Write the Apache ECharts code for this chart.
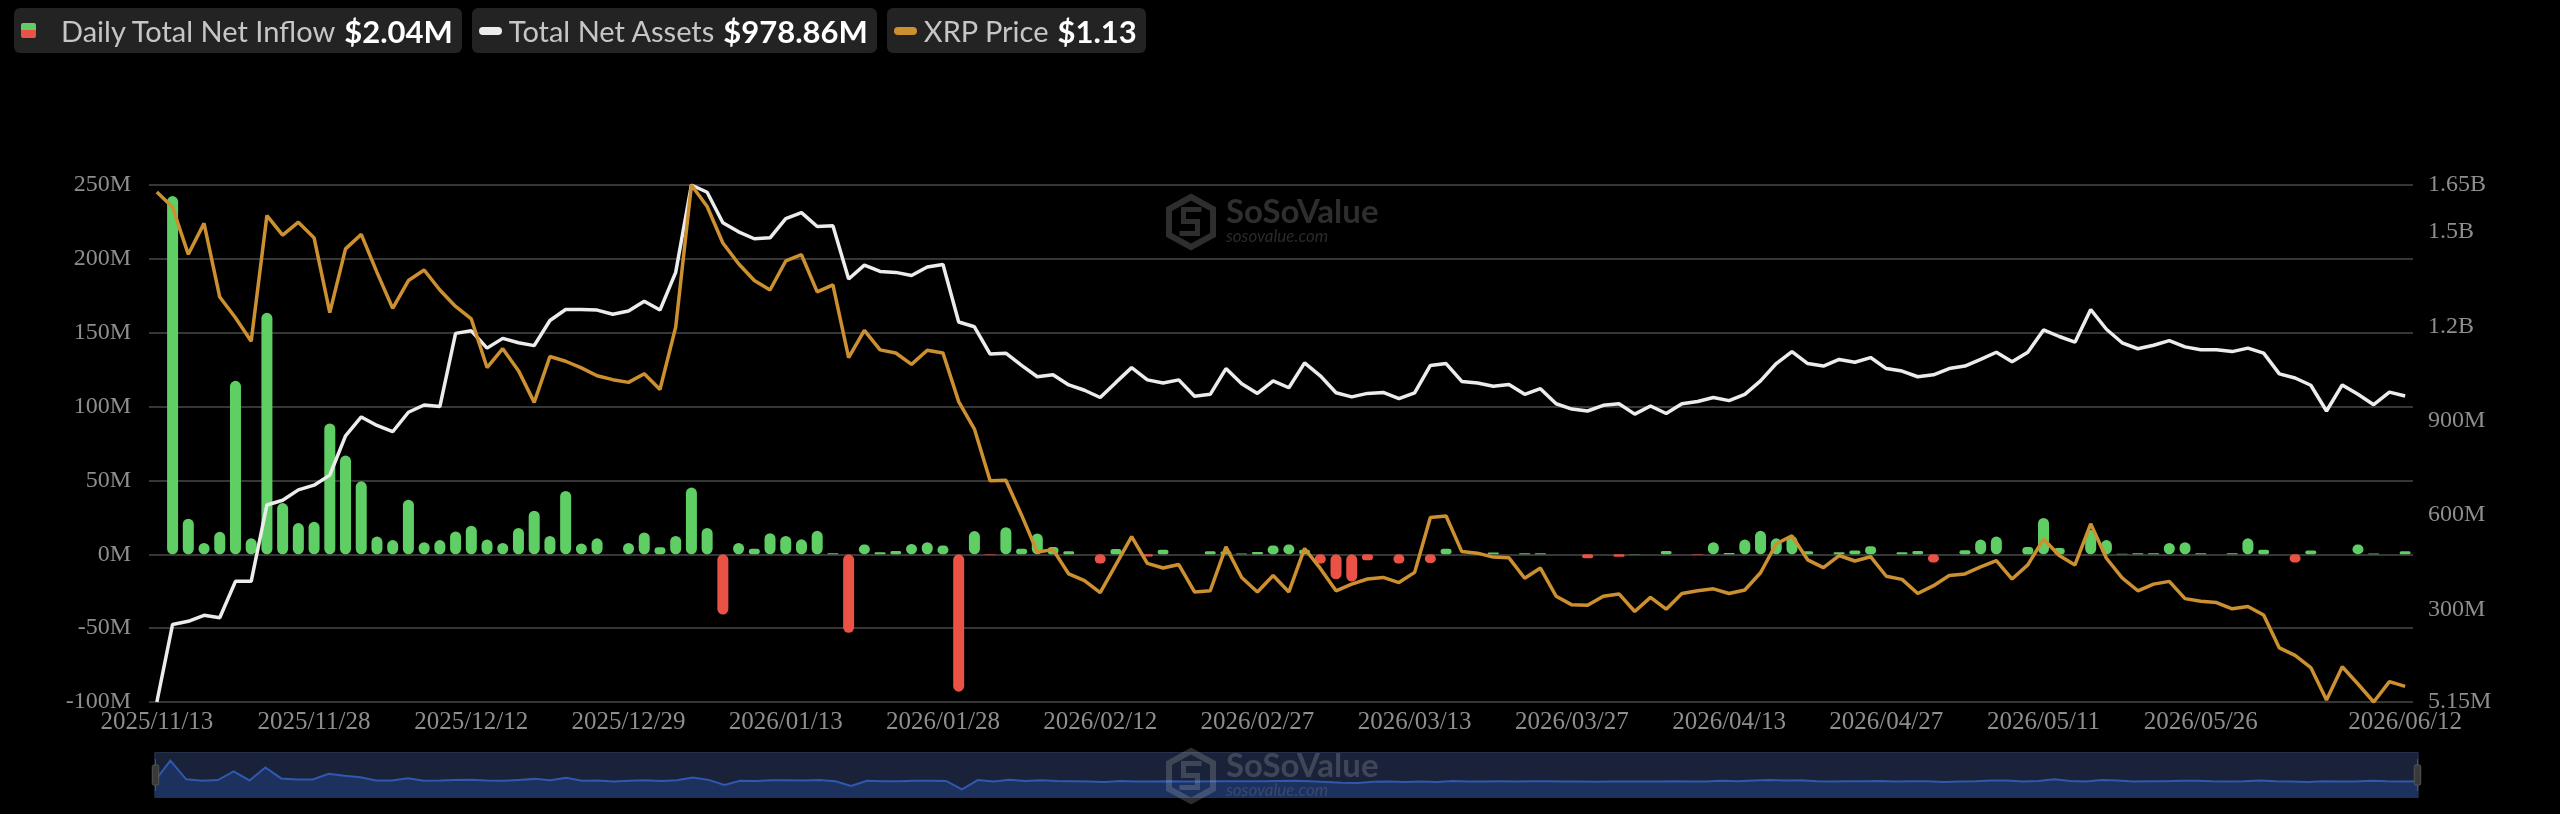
<!DOCTYPE html>
<html>
<head>
<meta charset="utf-8">
<title>XRP Spot ETF - Daily Total Net Inflow</title>
<script src="https://cdn.jsdelivr.net/npm/echarts@6/dist/echarts.min.js"></script>
<style>
    html, body { margin: 0; padding: 0; background: #000; }
    #main { width: 2560px; height: 814px; }
    .legend { position: absolute; top: 8px; left: 14px; display: flex; font-family: Lato, sans-serif; z-index: 2; }
    .item { background: #232323; border-radius: 6px; height: 45px; display: flex; align-items: center; padding: 0 9px 0 7px; margin-right: 10px; }
    .name { color: #c6c6c6; font-size: 29px; margin-right: 9px; }
    .val { color: #fff; font-size: 31px; font-weight: bold; }
    .ico-bar { width: 15px; height: 15px; margin-right: 25px; background: linear-gradient(#5fce64 50%, #ea5245 50%); border-radius: 2px; }
    .ico-line { width: 23px; height: 8px; border-radius: 4px; margin-right: 7px; }
</style>
</head>
<body>
<div class="legend">
    <div class="item"><div class="ico-bar"></div><span class="name">Daily Total Net Inflow</span><span class="val" id="vInflow"></span></div>
    <div class="item"><div class="ico-line" style="background:#ececec"></div><span class="name">Total Net Assets</span><span class="val" id="vAssets"></span></div>
    <div class="item"><div class="ico-line" style="background:#cc9030"></div><span class="name">XRP Price</span><span class="val" id="vPrice"></span></div>
</div>
<div id="main"></div>
<script>
// trading days
var dates = [
    '2025/11/13', '2025/11/14', '2025/11/17', '2025/11/18', '2025/11/19', '2025/11/20', '2025/11/21', '2025/11/24', '2025/11/25', '2025/11/26', '2025/11/28',
    '2025/12/01', '2025/12/02', '2025/12/03', '2025/12/04', '2025/12/05', '2025/12/08', '2025/12/09', '2025/12/10', '2025/12/11', '2025/12/12',
    '2025/12/15', '2025/12/16', '2025/12/17', '2025/12/18', '2025/12/19', '2025/12/22', '2025/12/23', '2025/12/24', '2025/12/26', '2025/12/29', '2025/12/30', '2025/12/31',
    '2026/01/02', '2026/01/05', '2026/01/06', '2026/01/07', '2026/01/08', '2026/01/09', '2026/01/12', '2026/01/13', '2026/01/14', '2026/01/15', '2026/01/16',
    '2026/01/20', '2026/01/21', '2026/01/22', '2026/01/23', '2026/01/26', '2026/01/27', '2026/01/28', '2026/01/29', '2026/01/30',
    '2026/02/03', '2026/02/04', '2026/02/05', '2026/02/06', '2026/02/09', '2026/02/10', '2026/02/11', '2026/02/12', '2026/02/13',
    '2026/02/17', '2026/02/18', '2026/02/19', '2026/02/20', '2026/02/23', '2026/02/24', '2026/02/25', '2026/02/26', '2026/02/27',
    '2026/03/02', '2026/03/03', '2026/03/04', '2026/03/05', '2026/03/06', '2026/03/09', '2026/03/10', '2026/03/11', '2026/03/12', '2026/03/13',
    '2026/03/16', '2026/03/17', '2026/03/18', '2026/03/19', '2026/03/20', '2026/03/23', '2026/03/24', '2026/03/25', '2026/03/26', '2026/03/27', '2026/03/30', '2026/03/31',
    '2026/04/01', '2026/04/02', '2026/04/06', '2026/04/07', '2026/04/08', '2026/04/09', '2026/04/10', '2026/04/13', '2026/04/14', '2026/04/15', '2026/04/16', '2026/04/17',
    '2026/04/20', '2026/04/21', '2026/04/22', '2026/04/23', '2026/04/24', '2026/04/27', '2026/04/28', '2026/04/29', '2026/04/30',
    '2026/05/01', '2026/05/04', '2026/05/05', '2026/05/06', '2026/05/07', '2026/05/08', '2026/05/11', '2026/05/12', '2026/05/13', '2026/05/14', '2026/05/15',
    '2026/05/18', '2026/05/19', '2026/05/20', '2026/05/21', '2026/05/22', '2026/05/26', '2026/05/27', '2026/05/28', '2026/05/29',
    '2026/06/01', '2026/06/02', '2026/06/03', '2026/06/04', '2026/06/05', '2026/06/08', '2026/06/09', '2026/06/10', '2026/06/11', '2026/06/12'
]

// daily total net inflow, million USD
var netInflow = [
    0, 242.5, 24.1, 7.7, 15.2, 117.4, 10.8, 163.5, 34.7, 21.1, 22.0,
    88.6, 66.8, 49.4, 12.0, 9.6, 37.0, 8.2, 9.6, 15.5, 19.4,
    10.0, 7.7, 17.8, 29.5, 12.4, 42.9, 7.3, 10.8, 0, 7.7, 14.8, 4.7,
    12.4, 45.2, 17.8, -40.8, 7.7, 3.7, 14.3, 12.4, 10.1, 15.9, 0.7,
    -53.2, 6.6, 1.4, 2.3, 7.0, 8.2, 5.9, -93.0, 15.7,
    -0.3, 18.3, 3.7, 14.1, 4.9, 2.1, 0, -6.3, 3.5,
    0, -1.5, 3.0, 0, 0, 2.1, 1.9, 0.5, 1.6,
    5.9, 6.6, 3.0, -6.3, -16.9, -18.5, -4.0, 0, -6.3, 0,
    -5.9, 3.7, 0, 0, 1.2, 0, 0.7, 0.7, 0, 0, -2.6, 0,
    -1.6, 0.2, 0, 2.3, 0, -0.3, 8.2, 0.9, 10.0, 15.9, 10.8, 12.4,
    2.1, 0, 1.4, 2.6, 5.4, 0, 1.4, 2.3, -5.6,
    0, 2.8, 10.0, 12.0, 0, 4.9, 24.6, 4.2, 0, 16.4, 9.6,
    0.3, 0.7, 0.7, 7.7, 8.2, 0.7, 0, 0.7, 10.8,
    3.0, 0, -5.6, 2.6, 0, 0, 6.6, 0.5, 0, 2.04
]

// total net assets, million USD
var netAssets = [
    5.15, 252, 262, 281, 273, 389, 389, 632, 647, 680, 695,
    727, 852, 912, 885, 865, 927, 950, 945, 1178, 1186,
    1131, 1162, 1148, 1139, 1219, 1254, 1254, 1252, 1239, 1249, 1280, 1252,
    1372, 1650, 1627, 1530, 1501, 1479, 1482, 1543, 1562, 1518, 1520,
    1351, 1395, 1375, 1372, 1362, 1389, 1397, 1214, 1199,
    1112, 1115, 1076, 1040, 1046, 1014, 997, 974, 1022,
    1069, 1030, 1020, 1030, 978, 984, 1066, 1018, 987,
    1027, 1005, 1084, 1043, 989, 976, 987, 990, 970, 989,
    1076, 1082, 1025, 1020, 1010, 1015, 984, 1002, 954, 937, 931, 949,
    954, 921, 947, 923, 954, 961, 974, 964, 984, 1027, 1082, 1120,
    1082, 1074, 1095, 1086, 1101, 1066, 1058, 1040, 1046,
    1066, 1074, 1095, 1118, 1088, 1118, 1189, 1168, 1150, 1254, 1191,
    1148, 1129, 1140, 1155, 1135, 1126, 1126, 1120, 1131,
    1115, 1049, 1036, 1013, 931, 1014, 984, 951, 991, 978.86
]

// XRP price, USD
var xrpPrice = [
    2.392, 2.353, 2.233, 2.312, 2.124, 2.071, 2.011, 2.332, 2.282, 2.315, 2.275,
    2.084, 2.247, 2.284, 2.187, 2.095, 2.166, 2.193, 2.142, 2.100, 2.068,
    1.944, 1.992, 1.936, 1.855, 1.972, 1.960, 1.943, 1.923, 1.913, 1.906, 1.928, 1.888,
    2.047, 2.410, 2.355, 2.262, 2.209, 2.166, 2.142, 2.216, 2.232, 2.137, 2.155,
    1.969, 2.039, 1.989, 1.981, 1.952, 1.988, 1.981, 1.857, 1.787,
    1.655, 1.656, 1.567, 1.473, 1.479, 1.417, 1.400, 1.369, 1.441,
    1.512, 1.444, 1.432, 1.441, 1.371, 1.374, 1.486, 1.408, 1.371,
    1.413, 1.371, 1.482, 1.431, 1.374, 1.391, 1.404, 1.408, 1.395, 1.421,
    1.561, 1.565, 1.474, 1.470, 1.460, 1.458, 1.406, 1.432, 1.360, 1.338, 1.337, 1.360,
    1.366, 1.321, 1.357, 1.327, 1.367, 1.374, 1.379, 1.367, 1.376, 1.420, 1.494, 1.514,
    1.453, 1.433, 1.464, 1.450, 1.461, 1.411, 1.403, 1.367, 1.387,
    1.413, 1.417, 1.435, 1.451, 1.404, 1.440, 1.506, 1.464, 1.440, 1.545, 1.457,
    1.407, 1.374, 1.391, 1.398, 1.354, 1.347, 1.344, 1.328, 1.334,
    1.312, 1.228, 1.209, 1.178, 1.095, 1.180, 1.136, 1.090, 1.142, 1.13
]

var leftTicks = { min: -100, max: 250, step: 50 }

$ = function(id) { return document.getElementById(id) }
var last = dates.length - 1
$('vInflow').textContent = '$' + netInflow[last].toFixed(2) + 'M'
$('vAssets').textContent = '$' + netAssets[last].toFixed(2) + 'M'
$('vPrice').textContent = '$' + xrpPrice[last].toFixed(2)

var GREEN = '#5fce64', RED = '#ea5245', LABEL = '#8e8e8e', GRID = '#363636'

// sosovalue watermark (logo + text)
function markText(top, color, sub, z) {
    return [
        { type: 'polygon', left: 1166, top: top, z: z, shape: { points: [[22, 0], [44, 12], [44, 38], [22, 50], [0, 38], [0, 12]] },
          style: { fill: 'none', stroke: color, lineWidth: 6 } },
        { type: 'polyline', left: 1177, top: top + 13, z: z, shape: { points: [[22, 0], [4, 0], [4, 12], [18, 12], [18, 24], [0, 24]] },
          style: { fill: 'none', stroke: color, lineWidth: 5 } },
        { type: 'text', left: 1226, top: top + 2, z: z, style: { text: 'SoSoValue', fill: color, font: 'bold 33px Lato, sans-serif' } },
        { type: 'text', left: 1226, top: top + 34, z: z, style: { text: 'sosovalue.com', fill: sub, font: 'italic 17px Lato, sans-serif' } }
    ]
}

var myChart = echarts.init(document.getElementById('main'))
var option = {
    backgroundColor: '#000',
    animation: false,
    graphic: markText(194, '#2e2e2e', '#2a2a2a', 0).concat(markText(748, 'rgba(200,200,200,0.22)', 'rgba(200,200,200,0.16)', 100)),
    grid: { left: 149, right: 147, top: 185, bottom: 112 },
    xAxis: {
        type: 'category',
        boundaryGap: true,
        data: dates,
        axisLine: { show: false },
        axisTick: { show: false },
        axisLabel: {
            color: LABEL,
            fontFamily: 'Liberation Serif',
            fontSize: 25,
            margin: 8,
            interval: function(idx) {
                return (idx % 10 === 0 && last - idx >= 10) || idx === last
            }
        }
    },
    yAxis: [{
        type: 'value',
        min: leftTicks.min,
        max: leftTicks.max,
        interval: leftTicks.step,
        axisLine: { show: false },
        axisTick: { show: false },
        splitLine: { lineStyle: { color: GRID, width: 2 } },
        axisLabel: {
            color: LABEL, fontFamily: 'Liberation Serif', fontSize: 24, margin: 18,
            formatter: function(v) { return v + 'M' }
        }
    }, {
        type: 'value',
        min: 'dataMin',
        max: 'dataMax',
        position: 'right',
        axisLine: { show: false },
        axisTick: { show: false },
        splitLine: { show: false },
        axisLabel: {
            color: LABEL, fontFamily: 'Liberation Serif', fontSize: 24, margin: 15,
            formatter: function(v) { return v >= 1000 ? (v / 1000) + 'B' : v + 'M' }
        }
    }, {
        type: 'value',
        min: 'dataMin',
        max: 'dataMax',
        show: false,
        splitLine: { show: false }
    }],
    dataZoom: [{
        type: 'slider',
        xAxisIndex: 0,
        start: 0,
        end: 100,
        left: 152,
        right: 144,
        top: 752,
        height: 46,
        showDetail: false,
        brushSelect: false,
        moveHandleSize: 0,
        backgroundColor: '#171d2b',
        borderColor: '#27304a',
        fillerColor: 'rgba(30,45,80,0.35)',
        handleSize: '70%',
        handleStyle: { color: '#3a3a3a', borderColor: '#555' },
        dataBackground: {
            lineStyle: { color: '#3b6fe0', width: 2, opacity: 1 },
            areaStyle: { color: '#1d3366', opacity: 1 }
        },
        selectedDataBackground: {
            lineStyle: { color: '#3b6fe0', width: 2, opacity: 1 },
            areaStyle: { color: '#1d3366', opacity: 1 }
        }
    }],
    series: [{
        name: 'Daily Total Net Inflow',
        type: 'bar',
        yAxisIndex: 0,
        barWidth: 11,
        data: netInflow,
        itemStyle: {
            borderRadius: 5.5,
            color: function(p) { return p.value >= 0 ? GREEN : RED }
        }
    }, {
        name: 'Total Net Assets',
        type: 'line',
        yAxisIndex: 1,
        symbol: 'none',
        data: netAssets,
        lineStyle: { color: '#ececec', width: 3.5 }
    }, {
        name: 'XRP Price',
        type: 'line',
        yAxisIndex: 2,
        symbol: 'none',
        data: xrpPrice,
        lineStyle: { color: '#cc9030', width: 3.5 }
    }]
}
myChart.setOption(option)
</script>
</body>
</html>
